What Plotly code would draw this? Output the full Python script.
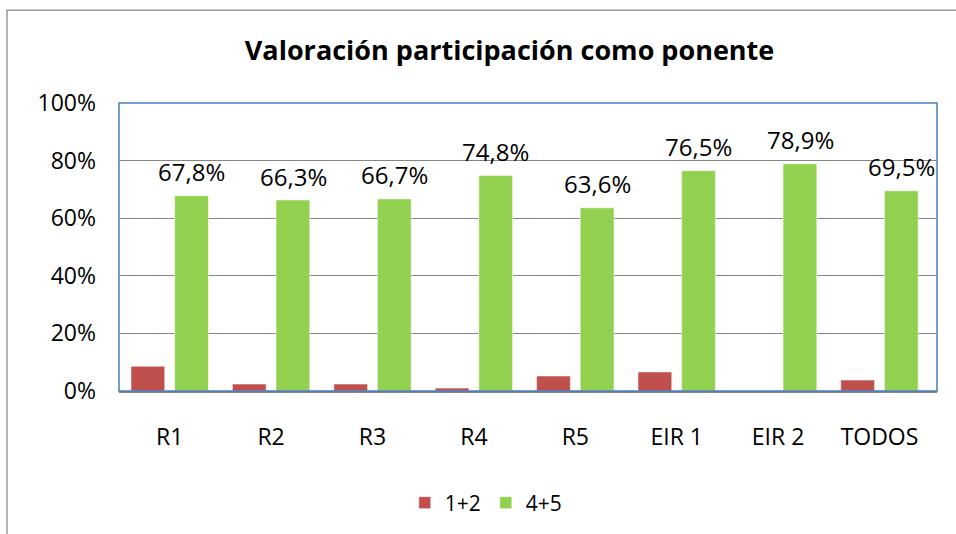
import plotly.graph_objects as go

categories = ["R1", "R2", "R3", "R4", "R5", "EIR 1", "EIR 2", "TODOS"]
vals_12 = [8.6, 2.4, 2.4, 1.0, 5.2, 6.6, 0.0, 3.8]
vals_45 = [67.8, 66.3, 66.7, 74.8, 63.6, 76.5, 78.9, 69.5]
labels_45 = ["67,8%", "66,3%", "66,7%", "74,8%", "63,6%", "76,5%", "78,9%", "69,5%"]
y_ticks = [0, 20, 40, 60, 80, 100]
y_ticklabels = ["0%", "20%", "40%", "60%", "80%", "100%"]

FONT = "Open Sans"
RED = "#C0504D"
GREEN = "#92D050"

fig = go.Figure()
fig.add_trace(go.Bar(
    x=categories, y=vals_12, name="1+2",
    marker=dict(color=RED, line=dict(color="rgba(255,255,255,0.5)", width=1)),
))
fig.add_trace(go.Bar(
    x=categories, y=vals_45, name="4+5",
    marker=dict(color=GREEN, line=dict(color="rgba(255,255,255,0.5)", width=1)),
))

# data labels above the green bars
for cat, v, lab in zip(categories, vals_45, labels_45):
    fig.add_annotation(x=cat, y=v, text=lab, showarrow=False,
                       xanchor="center", yanchor="middle", xshift=22, yshift=24,
                       font=dict(family=FONT, size=24, color="#000000"))

fig.update_layout(
    width=956, height=534,
    margin=dict(l=119, r=19, t=103, b=142),
    paper_bgcolor="white", plot_bgcolor="white",
    barmode="group", bargap=0.139, bargroupgap=0.227,
    font=dict(family=FONT, size=22, color="#000000"),
    title=dict(text="<b>Valoración participación como ponente</b>",
               x=0.533, xanchor="center", y=0.906, yanchor="middle",
               font=dict(family=FONT, size=27, color="#000000")),
    showlegend=True,
    legend=dict(orientation="h", x=0.449, xanchor="center", y=-0.384, yanchor="middle",
                font=dict(family=FONT, size=21), itemwidth=30, traceorder="normal"),
    xaxis=dict(showgrid=False, showline=True, linecolor="#868686", linewidth=2,
               ticks="", ticklabelstandoff=24, tickfont=dict(size=23)),
    yaxis=dict(range=[0, 100], tickvals=y_ticks, ticktext=y_ticklabels,
               showgrid=True, gridcolor="#868686", gridwidth=1,
               showline=False, zeroline=False, ticks="", ticklabelstandoff=22,
               tickfont=dict(size=23)),
    shapes=[
        dict(type="rect", xref="paper", yref="paper", x0=0, x1=1, y0=0, y1=1,
             line=dict(color="#4A7EBB", width=1.5), layer="above"),
        dict(type="rect", xref="paper", yref="paper", x0=-0.1369, x1=1.05, y0=-0.55, y1=1.3218,
             line=dict(color="#9A9A9A", width=1.5), layer="below"),
    ],
)

fig.write_html("out.html", config={"displayModeBar": False},
               post_script="document.body.style.margin='0px';")
